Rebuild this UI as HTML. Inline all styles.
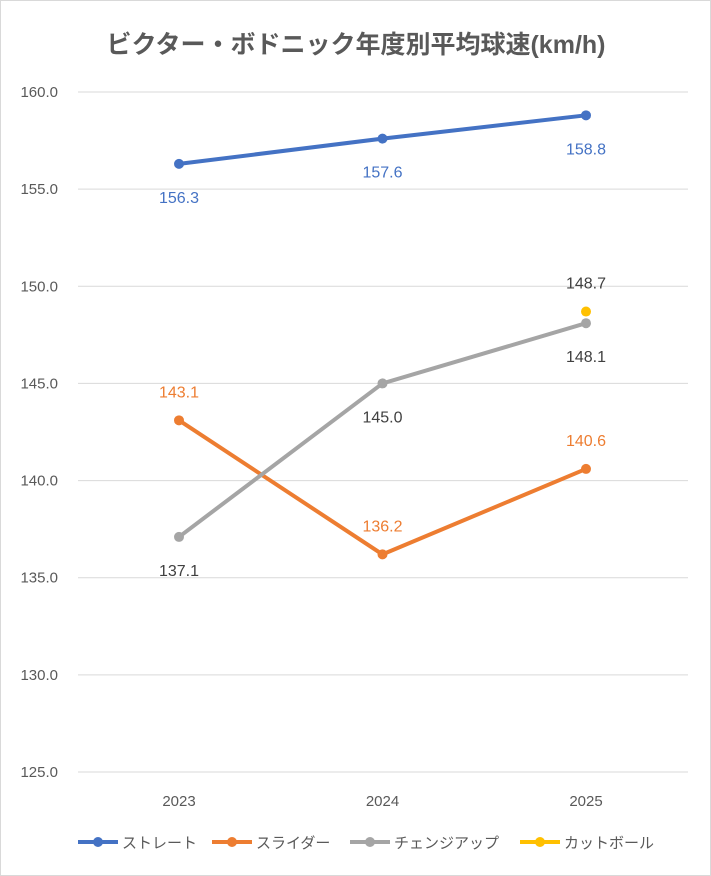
<!DOCTYPE html>
<html><head><meta charset="utf-8">
<style>
body{margin:0;background:#fff;}
svg{display:block;font-family:"Liberation Sans","Noto Sans CJK JP",sans-serif;}
</style></head>
<body>
<svg id="chart" width="711" height="876">
<rect x="0.5" y="0.5" width="710" height="875" fill="#fff" stroke="#d9d9d9"/>
<text x="356" y="53" text-anchor="middle" font-size="25" font-weight="bold" fill="#595959">ビクター・ボドニック年度別平均球速(km/h)</text>
<g id="grid"></g><g id="series"></g><g id="legend"></g>
</svg>
<script>
const categories=["2023","2024","2025"];
const yTicks=[125,130,135,140,145,150,155,160];
const straight=[156.3,157.6,158.8];
const slider=[143.1,136.2,140.6];
const changeup=[137.1,145.0,148.1];
const cutter=[null,null,148.7];
const seriesNames=["ストレート","スライダー","チェンジアップ","カットボール"];
const NS="http://www.w3.org/2000/svg";
const svg=document.getElementById('chart');
function yS(v){return 772-(v-125)*(680/35);}
function xS(i){return 179+i*203.5;}
function el(t,a,p){const e=document.createElementNS(NS,t);for(const k in a)e.setAttribute(k,a[k]);p.appendChild(e);return e;}
const grid=document.getElementById('grid');
yTicks.forEach(v=>{
 const l=el('line',{x1:78,x2:688,y1:yS(v),y2:yS(v),stroke:'#d9d9d9','stroke-width':1},grid);
 
 
 const t=el('text',{x:58,y:yS(v)+5,'text-anchor':'end','font-size':15,fill:'#595959'},grid);
 t.textContent=v.toFixed(1);
 
 
});
categories.forEach((c,i)=>{
 const t=el('text',{x:xS(i),y:806,'text-anchor':'middle','font-size':15,fill:'#595959'},grid);
 t.textContent=c;
 
 
});
const ser=document.getElementById('series');
const defs=[
 {d:straight,c:'#4472c4',lc:'#4472c4',pos:[1,1,1]},
 {d:slider,c:'#ed7d31',lc:'#ed7d31',pos:[-1,-1,-1]},
 {d:changeup,c:'#a5a5a5',lc:'#404040',pos:[1,1,1]},
 {d:cutter,c:'#ffc000',lc:'#404040',pos:[-1,-1,-1]}
];
defs.forEach((s,si)=>{
 const pts=[];s.d.forEach((v,i)=>{if(v!==null)pts.push([xS(i),yS(v),v,i]);});
 if(pts.length>1){const p=el('polyline',{points:pts.map(p=>p[0]+','+p[1]).join(' '),fill:'none',stroke:s.c,'stroke-width':4,'stroke-linejoin':'round','stroke-linecap':'round'},ser);
 
 }
 pts.forEach(p=>{
  const m=el('circle',{cx:p[0],cy:p[1],r:5,fill:s.c},ser);
  
  
  const t=el('text',{x:p[0],y:p[1]+(s.pos[p[3]]>0?39:-23),'text-anchor':'middle','font-size':16,fill:s.lc},ser);
  t.textContent=p[2].toFixed(1);
  
  
 });
});
const leg=document.getElementById('legend');
const lx=[78,212,350,520];
seriesNames.forEach((n,i)=>{
 const g=el('g',{},leg);
 
 
 el('line',{x1:lx[i],x2:lx[i]+40,y1:842,y2:842,stroke:defs[i].c,'stroke-width':4},g);
 el('circle',{cx:lx[i]+20,cy:842,r:5,fill:defs[i].c},g);
 const t=el('text',{x:lx[i]+44,y:848,'font-size':15,fill:'#595959'},g);
 t.textContent=n;
});
</script>
</body></html>
